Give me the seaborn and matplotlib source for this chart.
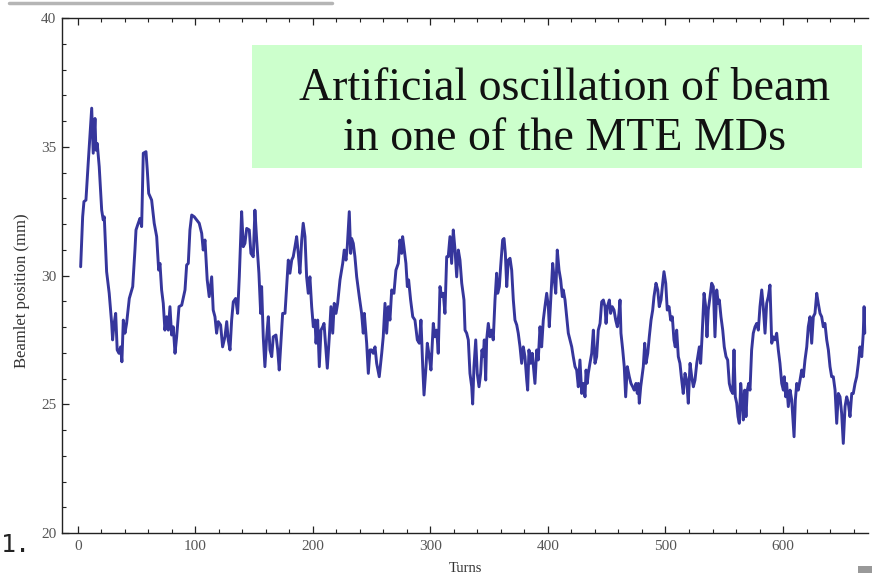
import matplotlib
matplotlib.use("Agg")
import matplotlib.pyplot as plt
from matplotlib.lines import Line2D
from matplotlib.patches import Rectangle
from matplotlib.ticker import MultipleLocator
import pandas as pd
import seaborn as sns

# beamlet trace (turn, position in mm)
turns = [
    2.3, 4.0, 5.1, 6.8, 8.8, 11.7, 13.0, 14.5, 15.3, 16.4, 18.1, 20.2, 21.5, 22.4, 24.4, 26.6, 28.7, 29.5,
    30.6, 32.1, 33.4, 34.9, 36.3, 37.4, 38.6, 40.0, 41.4, 43.7, 46.6, 48.5, 49.4, 51.3, 52.8, 54.2, 55.6,
    57.9, 59.0, 60.2, 62.7, 64.9, 67.0, 68.7, 69.8, 71.2, 72.6, 74.0, 75.5, 76.9, 78.3, 79.7, 81.1, 82.6,
    84.0, 86.0, 88.3, 91.1, 92.5, 93.9, 95.3, 96.8, 99.0, 101.0, 103.2,
    105.3, 106.6, 108.1, 110.0, 111.7, 113.8, 115.1, 116.6, 118.0, 119.4, 121.4, 123.1, 125.1, 126.6,
    127.9, 129.4, 130.8, 132.2, 134.2, 135.9, 137.3, 139.3, 140.7, 142.1, 143.6, 145.8, 147.2, 149.2,
    150.6, 152.1, 154.0, 155.5, 156.3, 157.7, 159.1, 160.6, 162.0, 163.4, 164.9, 166.2, 168.5, 170.0,
    171.3, 172.8, 174.2, 176.2, 177.6, 179.0, 180.4, 181.9, 183.2, 184.7, 186.1, 187.5, 188.9, 190.4,
    191.7, 193.2, 194.6, 196.0, 197.4, 198.9, 200.3, 201.7, 202.6, 204.0, 205.4, 206.8,
    208.3, 209.4, 211.1, 212.2, 213.9, 215.3, 216.8, 218.1, 219.6, 221.0, 223.0, 225.3, 226.6, 228.1,
    229.2, 230.9, 232.1, 232.9, 234.3, 235.7, 237.2, 239.4, 241.4, 242.8, 243.7, 245.7, 247.1, 248.5,
    250.0, 251.3, 252.8, 254.2, 256.4, 258.5, 259.8, 261.3, 262.7, 264.1, 265.5, 267.0, 268.9, 270.6,
    272.6, 274.0, 275.5, 276.3, 277.4, 279.1, 280.3, 281.4, 283.1, 284.9, 286.8, 288.8, 290.5, 291.9,
    293.4, 294.5, 296.2, 297.3, 299.0, 300.4, 302.4, 303.8, 305.3, 306.6, 308.1, 309.5, 310.9, 312.3,
    313.8, 315.1, 316.6, 318.0, 319.4, 320.9, 322.3, 323.7, 325.1,
    326.6, 328.5, 329.4, 330.8, 332.2, 333.6, 335.1, 335.9, 337.0, 338.5, 339.8, 341.3, 342.7, 343.8,
    344.9, 345.8, 347.0, 347.8, 349.2, 350.6, 352.1, 353.4, 354.9, 356.3, 357.2, 358.6, 359.7, 361.4,
    362.6, 363.7, 364.9, 366.2, 367.7, 369.1, 370.5, 371.9, 373.4, 374.7, 376.2, 377.6, 379.0, 380.4,
    381.9, 382.7, 383.8, 385.3, 386.6, 388.1, 388.9, 390.4, 391.7, 393.2, 394.6, 396.0, 397.4, 398.9,
    400.3, 401.1, 402.6, 404.0, 405.1, 406.6, 407.9, 409.4, 410.8, 412.2, 413.0, 414.5, 415.9, 417.3,
    418.7, 420.2, 421.5, 423.0, 424.4, 425.8, 427.2, 428.7, 430.0, 431.5, 432.4, 433.4, 434.3,
    435.7, 437.2, 438.6, 440.0, 441.4, 442.8, 444.3, 445.7, 447.1, 448.5, 449.4, 450.5, 452.2, 453.3,
    454.7, 456.2, 457.6, 459.0, 460.4, 461.3, 462.1, 463.6, 464.9, 466.1, 467.5, 469.2, 470.6, 472.1,
    473.4, 474.9, 476.0, 476.9, 477.7, 478.9, 480.0, 481.1, 482.3, 483.4, 484.9, 486.2, 487.7, 489.1,
    490.2, 491.9, 493.4, 494.7, 496.2, 497.6, 498.7, 500.2, 501.5, 503.0, 504.4, 505.8, 507.2, 508.3,
    509.5, 510.9, 512.3, 513.8, 515.1, 516.6, 518.0, 519.4, 520.9, 522.3, 523.7, 525.1, 526.6, 528.8,
    529.9, 531.1, 532.8, 534.2, 535.3, 536.4, 537.9, 539.3, 540.7, 542.1, 543.6, 544.9,
    545.8, 547.2, 548.7, 550.0, 551.5, 552.9, 554.3, 555.7, 557.2, 558.3, 559.4, 560.6, 561.7, 562.8,
    564.0, 565.1, 566.2, 567.4, 568.5, 569.6, 570.8, 571.9, 573.3, 574.7, 576.2, 577.6, 579.0, 580.4,
    581.9, 583.2, 584.7, 586.1, 587.5, 588.9, 590.4, 591.7, 593.2, 594.6, 596.0, 597.4, 598.9, 600.3,
    601.1, 602.3, 603.1, 604.5, 606.0, 607.4, 608.3, 609.4, 610.5, 611.7, 613.0, 614.5, 615.9, 617.3,
    618.7, 620.2, 621.5, 623.0, 624.4, 625.8, 627.2, 628.7, 630.0, 631.5, 632.9, 634.3, 635.7, 637.2,
    638.6, 640.0, 641.4, 642.8, 644.3, 645.7, 647.1, 648.5, 649.9, 651.3, 652.8, 654.2, 655.6, 657.0,
    658.5, 659.8, 661.3, 662.7, 664.1, 665.5, 667.0, 668.3, 669.0, 669.6,
]
position = [
    30.34, 32.28, 32.87, 32.93, 34.42, 36.50, 34.75, 36.10, 34.87, 35.13, 34.23, 32.54, 32.16, 32.28, 30.15, 29.31, 28.14, 27.50,
    28.08, 28.53, 27.11, 26.98, 27.23, 26.65, 28.27, 27.76, 28.14, 29.11, 29.57, 30.99, 31.77, 32.03, 32.22, 31.90, 34.75,
    34.81, 34.10, 33.19, 32.93, 32.03, 31.51, 30.21, 30.47, 29.44, 28.92, 27.88, 28.40, 27.88, 28.79, 27.69, 28.01, 26.98,
    27.62, 28.79, 28.85, 29.44, 30.41, 30.47, 31.77, 32.35, 32.28, 32.16, 32.03,
    31.64, 30.99, 31.38, 29.83, 29.18, 29.95, 28.66, 28.40, 27.76, 28.21, 28.08, 27.23, 27.62, 28.21,
    27.50, 27.11, 28.27, 28.98, 29.11, 28.53, 29.95, 32.48, 31.12, 31.25, 31.83, 31.77, 30.86, 30.73,
    32.54, 31.38, 30.09, 28.53, 29.57, 27.62, 26.46, 27.62, 28.40, 27.11, 26.85, 27.62, 27.69, 27.11,
    26.33, 27.50, 28.53, 28.53, 29.57, 30.60, 30.09, 30.60, 30.73, 31.12, 31.51, 30.86, 30.09, 31.38,
    32.03, 31.51, 29.95, 29.31, 29.95, 28.79, 28.01, 28.27, 27.37, 28.27, 26.46, 27.88,
    28.01, 28.14, 27.11, 26.40, 27.62, 28.79, 27.76, 28.92, 28.53, 28.92, 29.83, 30.47, 30.99, 30.60,
    31.12, 32.48, 30.86, 31.44, 31.25, 30.73, 29.95, 29.18, 28.53, 27.76, 28.53, 27.37, 26.20, 27.11,
    27.11, 26.98, 27.23, 26.59, 26.07, 26.98, 27.62, 28.92, 27.76, 28.79, 28.27, 29.44, 29.31, 30.21,
    30.47, 31.38, 30.86, 31.51, 31.12, 30.47, 29.57, 29.83, 29.05, 28.40, 28.27, 27.50, 27.37, 28.27,
    26.46, 25.36, 26.46, 27.37, 26.85, 26.33, 28.14, 27.62, 27.88, 26.98, 29.57, 29.18, 29.31, 28.53,
    30.73, 30.73, 31.51, 30.47, 31.77, 30.99, 29.95, 30.99, 30.60,
    29.70, 29.05, 27.88, 27.76, 27.50, 26.20, 25.68, 25.01, 26.46, 27.50, 26.20, 25.68, 26.20, 27.11,
    26.85, 27.50, 25.94, 27.50, 28.14, 27.62, 27.88, 27.50, 29.05, 30.09, 29.31, 29.57, 30.34, 31.38,
    31.44, 30.86, 29.57, 30.60, 30.67, 30.21, 29.05, 28.27, 28.08, 27.76, 27.23, 26.59, 27.23, 26.85,
    25.94, 25.55, 27.11, 26.59, 26.98, 26.20, 25.81, 27.11, 26.72, 28.01, 27.23, 28.27, 28.79, 29.31,
    28.79, 28.01, 29.31, 30.47, 29.95, 29.31, 30.99, 30.21, 29.83, 29.18, 29.44, 29.05, 28.40, 27.76,
    27.50, 27.23, 26.85, 26.46, 26.33, 25.68, 26.72, 25.42, 25.81, 25.29, 26.33, 25.81, 26.20,
    26.59, 26.98, 27.88, 26.59, 26.85, 27.88, 28.14, 28.98, 29.05, 28.79, 28.14, 28.79, 29.05, 28.53,
    28.79, 28.66, 28.27, 28.01, 28.53, 29.05, 27.76, 27.11, 26.46, 25.29, 26.46, 26.07, 25.81, 25.68,
    25.55, 25.81, 25.42, 25.81, 25.04, 25.68, 26.07, 26.46, 27.37, 26.59, 26.98, 27.62, 28.27, 28.66,
    29.18, 29.70, 29.44, 28.79, 29.05, 29.70, 30.15, 29.70, 28.66, 28.79, 28.27, 28.40, 27.50, 27.23,
    27.88, 26.85, 26.59, 25.94, 25.42, 26.20, 25.94, 25.04, 26.59, 26.07, 25.68, 25.94, 26.59, 27.23,
    26.59, 27.62, 29.31, 28.79, 27.62, 28.66, 29.18, 29.70, 29.57, 27.62, 29.44, 28.92,
    29.05, 28.40, 27.88, 27.23, 26.85, 26.72, 25.81, 25.55, 25.42, 27.11, 25.29, 25.04, 24.52, 24.26,
    25.81, 25.17, 24.39, 25.55, 24.52, 25.55, 25.81, 25.55, 27.11, 27.76, 28.01, 28.14, 27.88, 28.79,
    29.44, 28.79, 27.76, 28.92, 29.18, 29.63, 27.37, 27.62, 27.50, 27.76, 27.11, 26.59, 25.81, 25.55,
    26.07, 25.29, 25.81, 24.91, 25.55, 25.17, 24.52, 23.74, 25.17, 25.81, 25.55, 25.94, 26.33, 26.07,
    26.72, 27.23, 28.01, 28.40, 27.37, 28.40, 28.53, 29.31, 28.92, 28.53, 28.40, 28.01, 28.14, 27.50,
    27.11, 26.46, 26.07, 26.07, 25.55, 24.26, 25.42, 25.29, 24.65, 23.48, 24.91, 25.29, 25.04, 24.52,
    25.42, 25.42, 25.81, 26.07, 26.59, 27.23, 26.85, 27.76, 28.79, 27.76,
]

title_lines = ["Artificial oscillation of beam", "in one of the MTE MDs"]
x_label = "Turns"
y_label = "Beamlet position (mm)"

sns.set_theme(style="white")
plt.rcParams["font.family"] = ["Liberation Serif", "DejaVu Serif"]

df = pd.DataFrame({"turn": turns, "position": position})

fig = plt.figure(figsize=(8.74, 5.8), dpi=100)
ax = fig.add_axes([0.0709, 0.081, 0.9222, 0.8879])

sns.lineplot(data=df, x="turn", y="position", sort=False, estimator=None,
             color="#36369c", lw=2.1, ax=ax)

ax.set_xlim(-13.6, 672.3)
ax.set_ylim(20, 40)
ax.xaxis.set_major_locator(MultipleLocator(100))
ax.xaxis.set_minor_locator(MultipleLocator(20))
ax.yaxis.set_major_locator(MultipleLocator(5))
ax.yaxis.set_minor_locator(MultipleLocator(1))

for side in ["left", "bottom", "top"]:
    ax.spines[side].set_color("#222222")
    ax.spines[side].set_linewidth(1.0)
ax.spines["right"].set_visible(False)

ax.tick_params(axis="x", which="both", direction="in", bottom=True, top=True,
               colors="#222222", labelcolor="#555555", labelsize=11, pad=5)
ax.tick_params(axis="y", which="both", direction="in", left=True, right=False,
               colors="#222222", labelcolor="#555555", labelsize=11, pad=4)
ax.tick_params(which="major", length=5, width=0.9)
ax.tick_params(which="minor", length=3, width=0.8)

ax.set_xlabel(x_label, fontsize=10.5, color="#333333", va="center")
ax.set_ylabel(y_label, fontsize=12, color="#333333", va="center")
ax.xaxis.set_label_coords(0.5, -0.068)
ax.yaxis.set_label_coords(-0.05, 0.47)

# green title box
fig.patches.append(Rectangle((0.2883, 0.7103), 0.698, 0.2121, transform=fig.transFigure,
                             facecolor="#ccffcc", edgecolor="none", zorder=5))
fig.text(0.646, 0.8276, title_lines[0], ha="center", va="baseline", fontsize=33,
         color="#111111", zorder=6)
fig.text(0.646, 0.7414, title_lines[1], ha="center", va="baseline", fontsize=33,
         color="#111111", zorder=6)

# slide leftovers around the chart
fig.lines.append(Line2D([0.01, 0.38], [0.994, 0.994], transform=fig.transFigure,
                        color="#b5b5b5", lw=2.5))
fig.text(0.001, 0.06, "1.", fontsize=18, family="DejaVu Sans Mono", va="center",
         color="#222222")
fig.patches.append(Rectangle((0.982, 0.012), 0.016, 0.012, transform=fig.transFigure,
                             facecolor="#999999", edgecolor="none"))

fig.savefig("out.png", dpi=100)
plt.close(fig)
